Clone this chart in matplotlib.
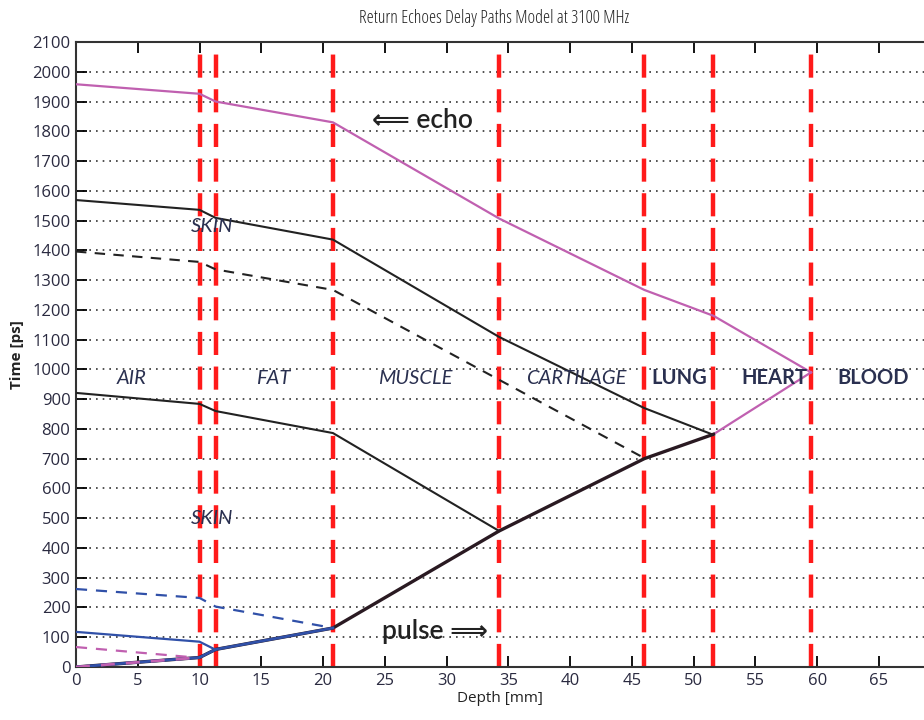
import numpy as np
import matplotlib.pyplot as plt

# layer boundaries [mm]
bounds = [10, 11.3, 20.8, 34.25, 46, 51.6, 59.5]

# echo paths (depth mm, time ps)
echo_x = [0, 10, 11.3, 20.8, 34.25, 46, 51.6, 59.5]
echo_y = [1958, 1926, 1900, 1830, 1507, 1267, 1180, 990]
echo_back_x = [51.6, 59.5]
echo_back_y = [782, 990]

blk1_x = [0, 10, 11.3, 20.8, 34.25, 46, 51.6]
blk1_y = [1569, 1536, 1509, 1436, 1109, 870, 780]

blkd_x = [0, 10, 11.3, 20.8, 34.25, 46]
blkd_y = [1396, 1361, 1336, 1267, 965, 702]

blk2_x = [0, 10, 11.3, 20.8, 34.25]
blk2_y = [921, 884, 860, 786, 457]

pulse_x = [0, 10, 11.3, 20.8, 34.25, 46, 51.6]
pulse_y = [0, 32, 59, 131, 457, 700, 782]

blue_x = [0, 10, 11.3]
blue_y = [118, 85, 58]
blued_x = [0, 10, 11.3, 20.8]
blued_y = [262, 232, 203, 131]
pinkd_x = [0, 9.6]
pinkd_y = [67, 32]

layers = ["AIR", "FAT", "MUSCLE", "CARTILAGE", "LUNG", "HEART", "BLOOD"]
layer_x = [4.5, 16, 27.5, 40.5, 48.8, 56.5, 64.5]
layer_style = ["italic"] * 4 + ["normal"] * 3

plt.rcParams['font.family'] = ['Open Sans', 'DejaVu Sans']

fig = plt.figure(figsize=(9.24, 7.2), dpi=100)
ax = fig.add_axes([76/924, 53/720, 1 - 76/924, 625/720])

pink = '#c060b0'
ax.plot(echo_x, echo_y, color=pink, lw=1.6, zorder=3)
ax.plot(echo_back_x, echo_back_y, color=pink, lw=1.6, zorder=3)
ax.plot(blk1_x, blk1_y, color='#222222', lw=1.5, zorder=3)
ax.plot(blkd_x, blkd_y, color='#222222', lw=1.5, ls=(0, (5, 4)), zorder=3)
ax.plot(blk2_x, blk2_y, color='#222222', lw=1.5, zorder=3)
ax.plot(pulse_x, pulse_y, color='#2a1a22', lw=2.4, zorder=3)
ax.plot(pulse_x[:4], pulse_y[:4], color='#3050a8', lw=2.0, zorder=4)
ax.plot(pulse_x[:2], pulse_y[:2], color=pink, lw=2.0, ls=(0, (5, 4)), zorder=5)
ax.plot(blue_x, blue_y, color='#3050a8', lw=1.6, zorder=4)
ax.plot(blued_x, blued_y, color='#3050a8', lw=1.6, ls=(0, (5, 4)), zorder=4)
ax.plot(pinkd_x, pinkd_y, color=pink, lw=1.6, ls=(0, (5, 4)), zorder=4)

for b in bounds:
    ax.axvline(b, color='#ff1a1a', lw=3.2, ls=(0, (5.2, 2.6)), zorder=2)

for name, x, st in zip(layers, layer_x, layer_style):
    ax.text(x, 970, name, ha='center', va='center', fontsize=14.5, color='#2a3050',
            style=st, zorder=6, fontfamily=['Lato', 'DejaVu Sans'],
            fontweight='normal' if st == 'italic' else 'bold')
for y in [1480, 500]:
    ax.text(11, y, "SKIN", ha='center', va='center', fontsize=14.5, color='#2a3050',
            style='italic', zorder=6, fontfamily=['Lato', 'DejaVu Sans'])

ax.text(24.0, 1835, "\u27f8 echo", ha='left', va='center', fontsize=19,
        color='#222222', fontfamily=['Lato', 'DejaVu Sans'], fontweight='semibold', zorder=6)
ax.text(24.8, 118, "pulse \u27f9", ha='left', va='center', fontsize=19,
        color='#222222', fontfamily=['Lato', 'DejaVu Sans'], fontweight='semibold', zorder=6)

ax.set_xlim(0, (924 - 76) / (803 / 65))
ax.set_ylim(0, 2100)
ax.set_xticks(np.arange(0, 70, 5))
ax.set_yticks(np.arange(0, 2101, 100))
ax.yaxis.grid(True, color='#333333', ls=(0, (1, 3)), lw=1.2)
ax.tick_params(direction='in', length=8, width=1.3, labelsize=12,
               labelcolor='#2a2a40', top=True, right=False, pad=4)
for s in ['left', 'bottom', 'top']:
    ax.spines[s].set_linewidth(1.5)
    ax.spines[s].set_color('#333333')
ax.spines['right'].set_visible(False)

ax.set_xlabel("Depth [mm]", fontsize=11, labelpad=2, color='#222222')
ax.set_ylabel("Time [ps]", fontsize=11, fontweight='bold', color='#222222', labelpad=6)
fig.text(0.535, 0.975, "Return Echoes Delay Paths Model at 3100 MHz", ha='center',
         va='center', fontsize=13, color='#222222', fontstretch='condensed')

fig.savefig("out.png", dpi=100)
